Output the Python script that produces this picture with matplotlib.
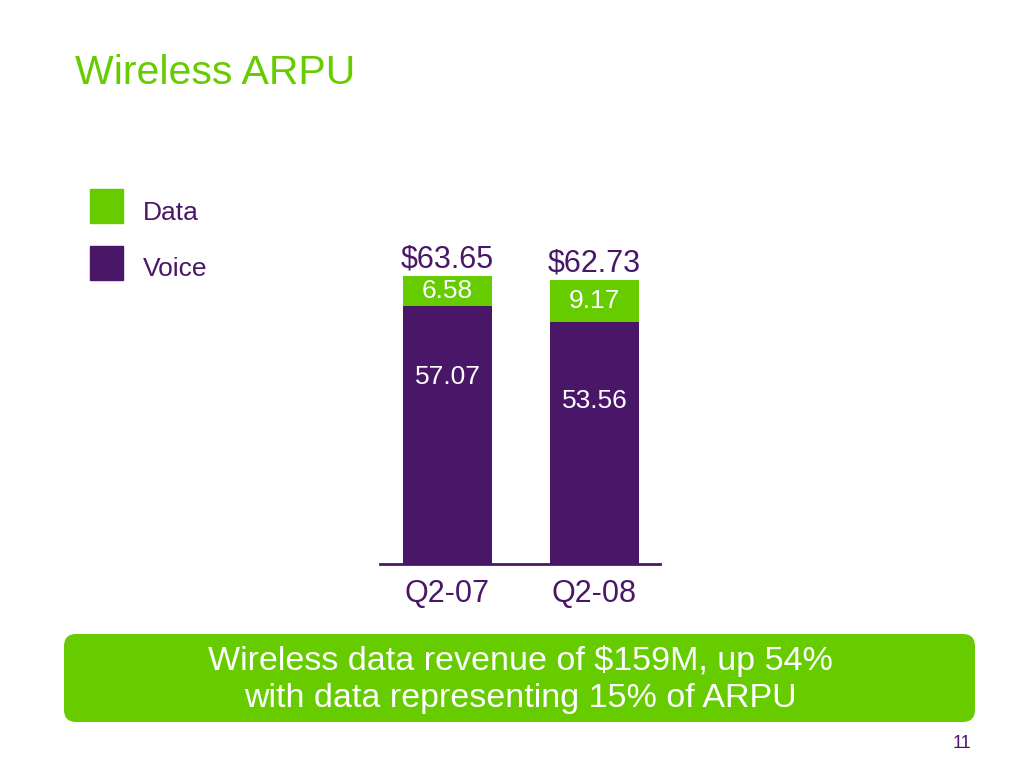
import matplotlib
matplotlib.use("Agg")
import matplotlib.pyplot as plt
from matplotlib.patches import FancyBboxPatch, Rectangle

plt.rcParams['font.family'] = ['Liberation Sans', 'DejaVu Sans']

categories = ["Q2-07", "Q2-08"]
voice = [57.07, 53.56]
data = [6.58, 9.17]
totals = ["$63.65", "$62.73"]
voice_labels = ["57.07", "53.56"]
data_labels = ["6.58", "9.17"]

GREEN = "#66CC00"
PURPLE = "#4A1768"

W, H = 1024, 768
fig = plt.figure(figsize=(W / 100, H / 100), dpi=100)
fig.patch.set_facecolor("white")

def fx(px):
    return px / W

def fy(py):
    return 1 - py / H

# Title
fig.text(fx(75), fy(84), "Wireless ARPU", color=GREEN, fontsize=29.5, ha="left", va="baseline")

# Legend
for (label, color, ytop, ty) in [("Data", GREEN, 189, 213), ("Voice", PURPLE, 246, 269)]:
    fig.patches.append(Rectangle((fx(90), fy(ytop + 34)), fx(33), 34 / H,
                                 transform=fig.transFigure, color=color, zorder=2))
    fig.text(fx(143), fy(ty), label, color=PURPLE, fontsize=19, ha="left", va="center")

# Bar chart axes
x_left, x_right = 380, 660
base_y = 564
px_per_unit = 4.52
ymax = 70
ax = fig.add_axes([fx(x_left), fy(base_y), fx(x_right - x_left), ymax * px_per_unit / H])
ax.set_facecolor("none")
pos = [0, 1]
bw = 0.605
ax.bar(pos, voice, width=bw, color=PURPLE, zorder=2)
ax.bar(pos, data, width=bw, bottom=voice, color=GREEN, zorder=2)
ax.set_xlim(-0.459, 1.446)
ax.set_ylim(0, ymax)
for s in ["top", "right", "left"]:
    ax.spines[s].set_visible(False)
ax.spines["bottom"].set_color(PURPLE)
ax.spines["bottom"].set_linewidth(2)
ax.set_yticks([])
ax.set_xticks(pos)
ax.set_xticklabels(categories, fontsize=22, color=PURPLE)
ax.tick_params(axis="x", length=0, pad=11)

voice_label_y = [41.4, 36.1]
for i in range(2):
    tot = voice[i] + data[i]
    ax.text(pos[i], tot + 0.4, totals[i], ha="center", va="bottom", fontsize=22, color=PURPLE)
    ax.text(pos[i], voice[i] + data[i] / 2, data_labels[i], ha="center", va="center",
            fontsize=19, color="white")
    ax.text(pos[i], voice_label_y[i], voice_labels[i], ha="center", va="center",
            fontsize=19, color="white")

# Bottom callout box
box = FancyBboxPatch((fx(64), fy(722)), fx(975 - 64), (722 - 634) / H,
                     boxstyle="round,pad=0,rounding_size=0.012",
                     transform=fig.transFigure, facecolor=GREEN, edgecolor="none",
                     mutation_aspect=W / H)
fig.patches.append(box)
fig.text(fx(520), fy(661), "Wireless data revenue of $159M, up 54%", color="white",
         fontsize=24.5, ha="center", va="center")
fig.text(fx(520), fy(698), "with data representing 15% of ARPU", color="white",
         fontsize=24.5, ha="center", va="center")

fig.text(fx(962), fy(744), "11", color=PURPLE, fontsize=13, ha="center", va="center")

fig.savefig("out.png", dpi=100, facecolor="white")
